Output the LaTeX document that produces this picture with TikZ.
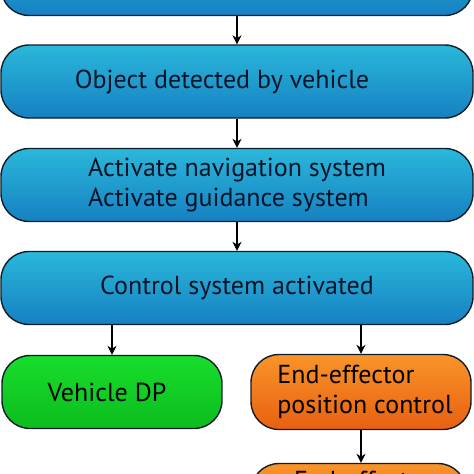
\documentclass[tikz,border=0pt]{standalone}
\usepackage{fontspec}
\setmainfont{PT Sans}
\usetikzlibrary{arrows.meta}
\definecolor{blueTop}{RGB}{42,184,218}
\definecolor{blueBot}{RGB}{22,128,194}
\definecolor{blueText}{RGB}{8,20,40}
\definecolor{greenTop}{RGB}{24,222,44}
\definecolor{greenBot}{RGB}{12,188,30}
\definecolor{orangeTop}{RGB}{249,148,42}
\definecolor{orangeBot}{RGB}{232,96,16}
\definecolor{boxEdge}{RGB}{16,28,40}

\begin{document}
\begin{tikzpicture}[x=1pt, y=-1pt,
    box/.style={draw=boxEdge, line width=1.4pt, rounded corners=28pt,
      minimum height=73pt, inner sep=0pt, font=\fontsize{26}{30}\selectfont},
    bluebox/.style={box, top color=blueTop, bottom color=blueBot,
      text=blueText, minimum width=472pt},
    greenbox/.style={box, top color=greenTop, bottom color=greenBot,
      minimum width=220pt},
    orangebox/.style={box, top color=orangeTop, bottom color=orangeBot,
      minimum width=220pt, align=left},
    flow/.style={-{Stealth[length=9pt, width=9pt]}, line width=1.2pt}]
    \useasboundingbox (0,0) rectangle (474,474);
    \clip (0,0) rectangle (474,474);
    % Boxes
    \node[bluebox] (start) at (237,-21) {};
    \node[bluebox] (detect) at (237,81.5) {Object detected by vehicle\hspace*{30pt}};
    \node[bluebox, align=left] (activate) at (237,185) {Activate navigation system\\Activate guidance system};
    \node[bluebox] (control) at (237,288) {Control system activated};
    \node[greenbox] (dp) at (112,392) {Vehicle DP\hspace*{10pt}};
    \node[orangebox, minimum height=75pt] (eepos) at (361,392) {\hspace*{8pt}End-effector\\\hspace*{8pt}position control};
    \node[orangebox, minimum width=215pt] (eenext) at (358.5,500) {\hspace*{8pt}End-effector\\\strut};
    % Arrows
    \draw[flow] (start) -- (detect);
    \draw[flow] (detect) -- (activate);
    \draw[flow] (activate) -- (control);
    \draw[flow] (control.south -| dp) -- (dp);
    \draw[flow] (control.south -| eepos) -- (eepos);
    \draw[flow] (eepos.south) -- (eepos.south |- eenext.north);
\end{tikzpicture}
\end{document}
